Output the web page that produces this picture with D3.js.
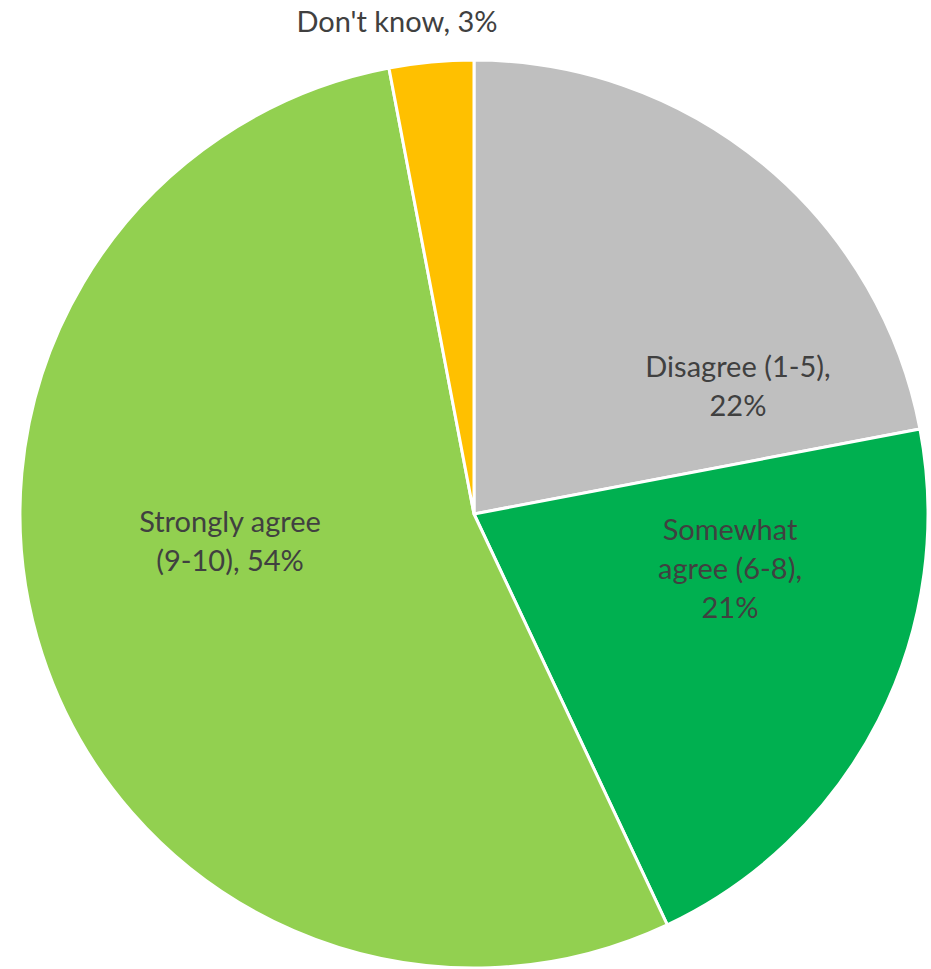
<!DOCTYPE html>
<html>
<head>
<meta charset="utf-8">
<script src="https://cdn.jsdelivr.net/npm/d3@7"></script>
<style>
  html, body { margin: 0; padding: 0; background: #ffffff; }
  svg { display: block; }
</style>
</head>
<body>
<svg id="chart" width="931" height="969"></svg>
<script>
// Survey answers, clockwise from 12 o'clock
const categories = ["Disagree (1-5)", "Somewhat agree (6-8)", "Strongly agree (9-10)", "Don't know"];
const values = [22, 21, 54, 3];
const colors = ["#BFBFBF", "#00B050", "#92D050", "#FFC000"];

// Label text lines per slice (the last line carries the value)
const labelLines = [
  ["Disagree (1-5),", "{v}%"],
  ["Somewhat", "agree (6-8),", "{v}%"],
  ["Strongly agree", "(9-10), {v}%"],
  ["Don't know, {v}%"]
];
// Label anchor: [centre x, first baseline y]
const labelAnchors = [[738, 377], [730, 540], [230, 532], [397, 32]];

const width = 931, height = 969;
const cx = 474, cy = 514, radius = 454;
const lineHeight = 39;

const svg = d3.select("#chart");

const pie = d3.pie().sort(null).value(d => d.value);
const arc = d3.arc().innerRadius(0).outerRadius(radius);

const data = categories.map((c, i) => ({ name: c, value: values[i], color: colors[i], i }));

const g = svg.append("g").attr("transform", `translate(${cx},${cy})`);

g.selectAll("path.slice")
  .data(pie(data))
  .join("path")
  .attr("class", "slice")
  .attr("d", arc)
  .attr("fill", d => d.data.color)
  .attr("stroke", "#ffffff")
  .attr("stroke-width", 3)
  .attr("stroke-linejoin", "round");

const labels = svg.append("g")
  .attr("font-family", "Lato, 'Open Sans', sans-serif")
  .attr("font-size", 29)
  .attr("fill", "#404040")
  .attr("text-anchor", "middle");

data.forEach((d, i) => {
  const [x, y] = labelAnchors[i];
  const t = labels.append("text").attr("x", x).attr("y", y);
  labelLines[i].forEach((line, k) => {
    t.append("tspan")
      .attr("x", x)
      .attr("y", y + k * lineHeight)
      .text(line.replace("{v}", d.value));
  });
});
</script>
</body>
</html>
